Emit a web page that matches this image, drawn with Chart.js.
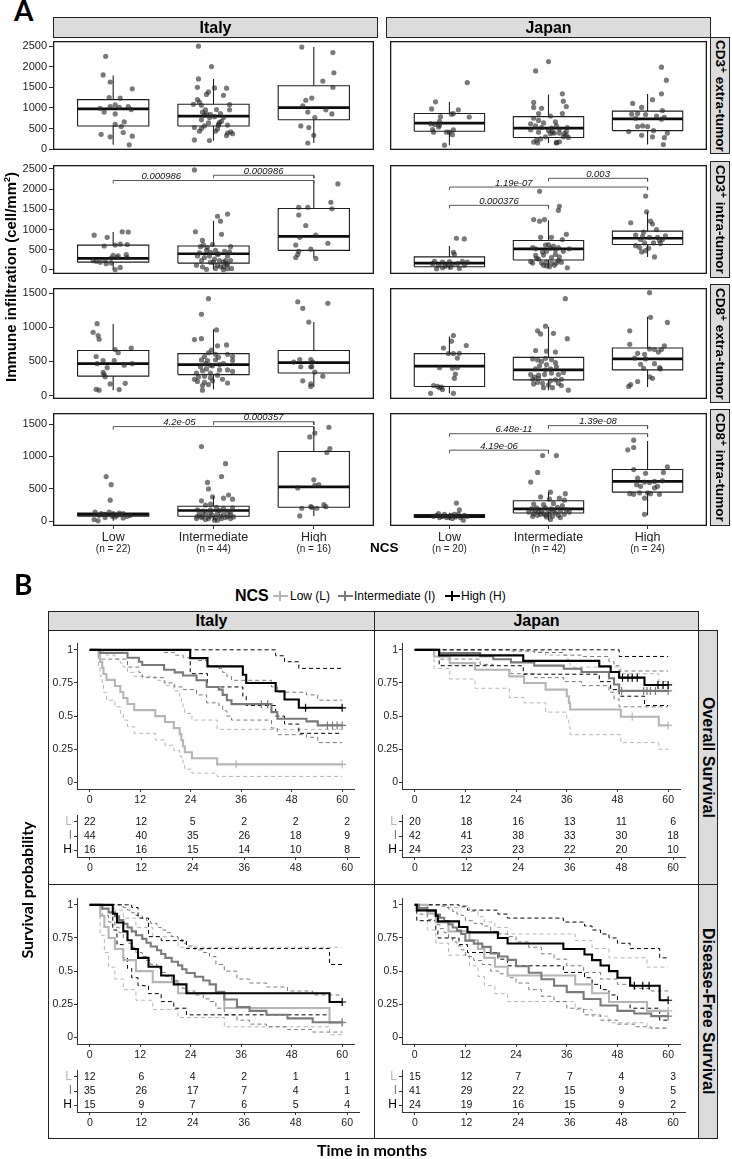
<!DOCTYPE html>
<html><head><meta charset="utf-8">
<script src="https://cdn.jsdelivr.net/npm/chart.js@4.4.1/dist/chart.umd.min.js"></script>
<style>
html,body{margin:0;padding:0;background:#fff;}
#root{position:relative;width:732px;height:1159px;overflow:hidden;font-family:"Liberation Sans",Arial,Helvetica,sans-serif;color:#000;}
#root canvas{position:absolute;}
.t{position:absolute;white-space:nowrap;}
.strip{position:absolute;box-sizing:border-box;background:#dcdcdc;border:1px solid #222;display:flex;align-items:center;justify-content:center;font-weight:bold;white-space:nowrap;}
.vs{writing-mode:vertical-rl;}
.sp{font-size:10px;position:relative;left:3px;}
.frame{position:absolute;box-sizing:border-box;border:1px solid #222;pointer-events:none;}
.sym{position:absolute;height:2px;width:15px;}
.sym:after{content:"";position:absolute;left:6px;top:-4px;width:2px;height:10px;background:inherit;}
</style></head><body><div id="root"></div>
<script>
// ======================= PANEL A DATA =======================
const groupNames = ['Low','Intermediate','High'];
const nItaly = ['(n = 22)','(n = 44)','(n = 16)'];
const nJapan = ['(n = 20)','(n = 42)','(n = 24)'];
const cohortNames = ['Italy','Japan'];
const rowTitles = ['CD3<span class="sp">+</span>&nbsp;extra-tumor','CD3<span class="sp">+</span>&nbsp;intra-tumor','CD8<span class="sp">+</span>&nbsp;extra-tumor','CD8<span class="sp">+</span>&nbsp;intra-tumor'];
const ticksCD3 = [0,500,1000,1500,2000,2500];
const ticksCD8 = [0,500,1000,1500];

// box statistics per group (Low, Intermediate, High): [q1, median, q3, lower whisker, upper whisker]
const itCD3eBox = [[563,976,1202,105,1787],[563,803,1089,203,1705],[713,1006,1540,150,2478]];
const jpCD3eBox = [[436,631,864,98,1142],[285,511,789,150,1329],[451,736,924,113,1337]];
const itCD3iBox = [[192,285,615,5,938],[169,400,592,15,1215],[484,830,1523,308,2138]];
const jpCD3iBox = [[77,169,323,31,592],[246,523,730,54,1230],[630,784,961,323,1438]];
const itCD8eBox = [[284,468,660,78,1050],[307,454,615,87,972],[330,482,660,124,1078]];
const jpCD8eBox = [[133,431,615,32,867],[229,376,560,78,1005],[376,537,697,124,1156]];
const itCD8iBox = [[78,105,124,5,140],[75,164,229,15,389],[214,528,1076,75,1450]];
const jpCD8iBox = [[58,75,100,15,130],[125,189,314,15,453],[448,613,797,90,1236]];

// jittered points: [group, jitter, value]
const itCD3ePts = [[1,-.075,2253],[1,-.10,1802],[1,-.03,1630],[1,-.04,1254],[1,.07,1239],[1,.19,1464],[1,-.13,991],[1,-.09,901],[1,-.03,1036],[1,.02,1074],[1,.06,1014],[1,.15,1036],[1,.18,961],[1,.02,856],[1,.02,601],[1,.08,548],[1,.11,661],[1,-.12,360],[1,-.03,300],[1,.10,405],[1,.19,315],[1,.16,105],
[2,-.15,2500],[2,-.02,2005],[2,-.15,1705],[2,-.16,1502],[2,-.07,1329],[2,-.05,1389],[2,.01,1487],[2,.13,1480],[2,.10,1307],[2,-.14,1141],[2,-.20,1089],[2,-.12,1066],[2,-.08,954],[2,.03,961],[2,.16,1081],[2,.16,954],[2,-.09,826],[2,-.07,856],[2,-.04,766],[2,.01,789],[2,.10,766],[2,-.12,713],[2,.06,653],[2,-.05,638],[2,.05,578],[2,.14,586],[2,-.19,526],[2,-.12,503],[2,-.14,435],[2,.02,435],[2,.05,601],[2,.14,390],[2,.19,375],[2,.13,330],[2,-.19,225],[2,-.04,210],[2,.08,676],[2,-.11,901],[2,-.03,841],[2,.17,420],[2,.04,488],[2,-.16,1201],[2,.07,864],[2,-.09,563],
[3,-.12,2478],[3,.19,2343],[3,.20,1855],[3,.09,1652],[3,.19,1502],[3,-.02,1239],[3,-.08,1187],[3,-.11,1051],[3,-.06,901],[3,.12,954],[3,.18,856],[3,.01,766],[3,-.13,563],[3,-.05,526],[3,0,338],[3,-.06,150]];
const jpCD3ePts = [[1,.18,1615],[1,-.14,1149],[1,-.18,976],[1,.09,954],[1,.04,864],[1,.02,849],[1,-.09,789],[1,.20,781],[1,-.10,676],[1,-.19,616],[1,-.15,601],[1,-.11,541],[1,-.17,473],[1,.04,466],[1,-.03,413],[1,.03,353],[1,-.16,413],[1,-.05,98],[1,-.10,578],[1,0,413],
[2,0,2125],[2,-.13,1900],[2,.14,1344],[2,-.15,1134],[2,.15,1164],[2,-.15,1014],[2,-.07,991],[2,.18,1036],[2,-.10,864],[2,.02,803],[2,.14,864],[2,-.15,751],[2,-.05,638],[2,.07,661],[2,-.18,616],[2,-.13,563],[2,-.07,526],[2,.03,511],[2,.08,563],[2,.19,526],[2,.11,488],[2,-.10,413],[2,.02,375],[2,.06,390],[2,.11,390],[2,.18,338],[2,.20,285],[2,-.12,225],[2,-.08,248],[2,-.15,173],[2,-.11,150],[2,.08,165],[2,.11,180],[2,.04,413],[2,-.03,300],[2,0,450],[2,-.18,473],[2,.16,375],[2,-.10,698],[2,.18,435],[2,.08,150],[2,.15,300],
[3,.14,1990],[3,.19,1675],[3,.14,1344],[3,.05,1202],[3,-.15,1111],[3,-.06,1014],[3,.15,939],[3,-.16,849],[3,-.10,864],[3,-.02,841],[3,.09,803],[3,.17,774],[3,-.12,751],[3,.14,728],[3,-.05,563],[3,0,548],[3,-.10,548],[3,-.19,428],[3,.20,390],[3,.06,450],[3,-.06,338],[3,.05,300],[3,.17,278],[3,.16,113]];
const itCD3iPts = [[1,-.19,861],[1,-.06,807],[1,.09,946],[1,.15,938],[1,-.09,592],[1,.02,615],[1,.07,638],[1,.14,630],[1,.05,346],[1,0,361],[1,.13,377],[1,-.17,215],[1,-.13,192],[1,-.08,231],[1,-.07,154],[1,-.02,292],[1,.04,308],[1,.14,308],[1,.02,5],[1,.07,62],[1,-.02,169],[1,-.2,231],
[2,-.19,2476],[2,.04,1330],[2,.14,1384],[2,.07,1207],[2,-.18,946],[2,.08,884],[2,-.11,730],[2,-.10,615],[2,-.01,630],[2,.17,577],[2,-.13,577],[2,-.06,554],[2,-.07,484],[2,-.03,438],[2,.02,484],[2,.05,400],[2,.11,461],[2,.16,446],[2,-.16,346],[2,-.04,346],[2,.04,384],[2,.14,346],[2,-.12,231],[2,.01,269],[2,.10,192],[2,.13,154],[2,-.17,115],[2,-.11,77],[2,-.07,15],[2,-.03,192],[2,.04,115],[2,.07,77],[2,.10,77],[2,.14,31],[2,.18,38],[2,.12,231],[2,-.09,308],[2,0,192],[2,.17,231],[2,.06,231],[2,-.14,423],[2,.14,131],[2,.10,5],[2,.02,38],
[3,.24,2130],[3,.17,1676],[3,-.15,1553],[3,-.06,1553],[3,.18,1515],[3,-.15,1361],[3,-.08,1100],[3,.02,861],[3,-.14,807],[3,.14,661],[3,-.18,615],[3,-.03,515],[3,-.15,461],[3,-.16,384],[3,-.18,308],[3,.02,285]];
const jpCD3iPts = [[1,.07,784],[1,.15,769],[1,.04,438],[1,.05,384],[1,-.15,215],[1,-.07,192],[1,.13,215],[1,.18,192],[1,-.17,154],[1,-.02,138],[1,.03,138],[1,.08,154],[1,-.13,31],[1,-.07,54],[1,.01,62],[1,.10,38],[1,-.04,92],[1,-.11,115],[1,.15,115],[1,0,208],
[2,-.09,1946],[2,.11,1576],[2,.10,1476],[2,-.15,1246],[2,-.09,1207],[2,-.04,1246],[2,-.08,807],[2,.03,807],[2,.14,754],[2,.18,884],[2,-.16,554],[2,-.13,523],[2,-.03,615],[2,0,630],[2,.05,592],[2,.10,554],[2,.21,523],[2,-.06,446],[2,-.02,461],[2,.07,500],[2,-.13,361],[2,-.05,369],[2,.03,308],[2,.11,323],[2,-.18,208],[2,-.16,169],[2,-.10,269],[2,-.02,192],[2,.03,169],[2,.08,169],[2,.13,192],[2,.01,77],[2,-.02,100],[2,.19,54],[2,.06,115],[2,-.07,169],[2,-.12,285],[2,.15,461],[2,.07,384],[2,.10,231],[2,.02,538],[2,-.05,115],
[3,-.02,1830],[3,-.01,1438],[3,-.17,1169],[3,.03,1207],[3,.05,1138],[3,.09,1000],[3,-.04,938],[3,-.12,861],[3,-.05,830],[3,.02,807],[3,.10,807],[3,.18,846],[3,-.07,754],[3,.15,754],[3,-.12,600],[3,-.08,554],[3,-.03,669],[3,.06,669],[3,.13,653],[3,-.02,477],[3,-.06,446],[3,.07,323],[3,.01,538],[3,.12,730]];
const itCD8ePts = [[1,-.16,1055],[1,-.20,927],[1,-.15,881],[1,-.14,826],[1,.02,674],[1,.05,628],[1,.18,697],[1,-.17,573],[1,-.10,514],[1,.01,514],[1,-.16,468],[1,.11,445],[1,.19,468],[1,-.06,408],[1,-.10,339],[1,-.08,275],[1,-.03,170],[1,.12,179],[1,-.17,92],[1,-.14,78],[1,.06,87],[1,-.09,307],
[2,-.05,1422],[2,-.12,1193],[2,.03,963],[2,-.19,821],[2,-.12,835],[2,-.02,665],[2,.04,729],[2,.13,743],[2,-.05,628],[2,.14,605],[2,.19,573],[2,-.12,523],[2,-.06,514],[2,.02,523],[2,.05,560],[2,-.13,422],[2,-.08,468],[2,-.01,436],[2,.06,454],[2,.19,514],[2,-.17,330],[2,-.11,362],[2,-.07,390],[2,.14,376],[2,.19,353],[2,-.19,239],[2,-.15,271],[2,-.09,284],[2,-.03,261],[2,.04,298],[2,-.16,206],[2,-.09,193],[2,-.01,216],[2,.14,184],[2,-.11,78],[2,-.05,161],[2,-.11,147],[2,-.03,330],[2,.06,376],[2,.02,605],[2,.10,468],[2,-.03,445],[2,-.09,573],[2,.09,239],
[3,-.16,1376],[3,-.11,1280],[3,.14,1353],[3,-.05,1078],[3,-.20,491],[3,-.14,527],[3,-.03,527],[3,-.01,491],[3,-.13,422],[3,-.03,422],[3,.01,344],[3,.09,284],[3,-.11,216],[3,-.03,170],[3,-.03,133],[3,-.02,422]];
const jpCD8ePts = [[1,.04,881],[1,.02,798],[1,.17,734],[1,-.06,697],[1,-.01,615],[1,.04,615],[1,.10,619],[1,.08,550],[1,-.10,408],[1,.03,399],[1,.08,408],[1,.06,316],[1,.05,252],[1,-.16,147],[1,-.12,133],[1,-.10,115],[1,-.07,87],[1,-.19,32],[1,.04,32],[1,-.08,124],
[2,.17,1422],[2,-.03,1018],[2,-.11,950],[2,-.08,904],[2,.05,913],[2,.19,835],[2,-.13,661],[2,-.02,651],[2,.07,638],[2,-.16,537],[2,-.11,523],[2,-.07,500],[2,-.03,546],[2,.03,527],[2,.07,482],[2,-.09,436],[2,-.02,454],[2,.08,422],[2,-.13,390],[2,-.03,376],[2,.02,390],[2,.15,339],[2,-.18,307],[2,-.14,271],[2,-.10,298],[2,-.04,307],[2,.03,330],[2,.10,307],[2,-.16,239],[2,-.10,252],[2,-.06,179],[2,.02,216],[2,.07,229],[2,.13,239],[2,-.15,170],[2,-.05,115],[2,.04,115],[2,.13,147],[2,.20,78],[2,0,156],[2,-.11,193],[2,.10,179],
[3,.02,1509],[3,.03,1147],[3,.20,1073],[3,-.18,950],[3,-.18,752],[3,.02,683],[3,.07,674],[3,.14,674],[3,.17,729],[3,-.10,619],[3,.11,638],[3,-.02,537],[3,-.13,550],[3,-.07,459],[3,.12,408],[3,-.04,399],[3,.02,275],[3,.05,252],[3,-.10,206],[3,-.19,133],[3,-.17,161],[3,.13,390],[3,.07,468],[3,-.03,605]];
const itCD8iPts = [[1,-.07,688],[1,-.02,563],[1,-.03,324],[1,-.18,140],[1,-.12,115],[1,-.04,140],[1,0,115],[1,.06,125],[1,.10,115],[1,.17,90],[1,-.19,25],[1,-.15,5],[1,-.08,55],[1,.02,65],[1,.10,50],[1,-.09,105],[1,.04,90],[1,-.14,90],[1,-.08,105],[1,-.01,75],[1,.07,105],[1,.14,75],
[2,-.12,1151],[2,.12,887],[2,.08,688],[2,-.06,598],[2,-.05,498],[2,-.01,374],[2,.10,354],[2,.15,404],[2,.19,339],[2,-.12,314],[2,-.08,249],[2,-.03,264],[2,.03,214],[2,.10,199],[2,.19,204],[2,-.16,174],[2,-.10,154],[2,-.03,140],[2,.06,164],[2,.14,154],[2,-.14,105],[2,-.08,115],[2,-.01,90],[2,.04,115],[2,.10,105],[2,.17,90],[2,-.17,40],[2,-.12,55],[2,-.08,25],[2,.01,15],[2,.08,40],[2,.12,55],[2,.17,40],[2,.04,15],[2,-.04,75],[2,-.11,75],[2,.14,75],[2,-.03,174],[2,.07,75],[2,.17,140],[2,.02,55],[2,-.05,40],[2,-.16,75],[2,.20,65],
[3,.15,1450],[3,.01,1360],[3,-.04,1300],[3,.16,1121],[3,.13,1061],[3,0,638],[3,-.16,513],[3,.01,553],[3,.05,563],[3,-.12,199],[3,-.03,224],[3,.03,199],[3,.12,224],[3,-.14,80],[3,.10,254],[3,-.02,214]];
const jpCD8iPts = [[1,.07,279],[1,.10,174],[1,-.11,115],[1,-.07,75],[1,.02,90],[1,.06,65],[1,.11,55],[1,.14,15],[1,.18,75],[1,-.16,75],[1,-.03,55],[1,.09,105],[1,-.10,55],[1,.03,40],[1,-.13,90],[1,-.05,105],[1,0,65],[1,.15,90],[1,.05,105],[1,-.08,75],
[2,-.06,1012],[2,.08,1012],[2,-.11,752],[2,-.18,603],[2,.02,448],[2,.17,424],[2,-.08,374],[2,.01,339],[2,.11,354],[2,.16,324],[2,-.15,264],[2,-.05,254],[2,.05,274],[2,.14,239],[2,-.17,189],[2,-.12,204],[2,-.07,164],[2,-.03,204],[2,.03,189],[2,.09,214],[2,.18,174],[2,-.20,140],[2,-.15,115],[2,-.10,140],[2,-.05,115],[2,0,154],[2,.07,125],[2,.12,154],[2,.21,140],[2,-.16,75],[2,-.11,90],[2,-.02,65],[2,.04,75],[2,.12,55],[2,.02,25],[2,-.03,90],[2,.10,90],[2,-.08,105],[2,.16,105],[2,.05,164],[2,-.13,164],[2,.01,105],
[3,-.14,1251],[3,-.20,1101],[3,-.14,1136],[3,-.14,797],[3,.20,837],[3,-.02,738],[3,.16,752],[3,-.10,663],[3,.07,613],[3,.15,623],[3,.02,598],[3,-.07,538],[3,-.03,603],[3,-.18,424],[3,-.14,414],[3,.03,424],[3,.12,414],[3,-.03,354],[3,-.03,105],[3,0,438],[3,.07,513],[3,-.08,438],[3,.10,538],[3,-.11,563]];

// significance brackets: [group1, group2, y, p-value label, label x]
const itCD3iSig = [[1,3,2215,'0.000986',1.48],[2,3,2345,'0.000986',2.5]];
const jpCD3iSig = [[2,3,2269,'0.003',2.5],[1,3,2053,'1.19e-07',1.65],[1,2,1600,'0.000376',1.5]];
const itCD8iSig = [[1,3,1460,'4.2e-05',1.66],[2,3,1535,'0.000357',2.5]];
const jpCD8iSig = [[2,3,1475,'1.39e-08',2.5],[1,3,1350,'6.48e-11',1.65],[1,2,1096,'4.19e-06',1.5]];

// ======================= PANEL B DATA =======================
const legendTitle = 'NCS';
const legendLabels = ['Low (L)','Intermediate (I)','High (H)'];
const stripB = ['Overall Survival','Disease-Free Survival'];
const kmXTicks = [0,12,24,36,48,60];
const kmYTicks = [0,0.25,0.5,0.75,1];
const riskTimes = [0,12,24,36,48,60];
const riskRowLabels = ['H','I','L'];

// Italy – overall survival: times, survival, upper CI, lower CI, censoring times
const itOS_H_t = [0,23.9,28,36.4,37.2,44.2,46.3,49.7,60];
const itOS_H_s = [1,.9375,.875,.8125,.75,.6875,.625,.5625,.5625];
const itOS_H_up = [1,1,1,1,1,.955,.91,.86,.86];
const itOS_H_lo = [1,.82,.72,.65,.58,.5,.44,.37,.37];
const itOS_H_c = [51.3,60];
const itOS_I_t = [0,2.5,9.0,11.7,12.5,17.7,20.2,22.2,25.4,27.8,30.7,31.6,32.6,33.7,43.2,44.6,51.5,54.2,60];
const itOS_I_s = [1,.977,.94,.91,.886,.85,.83,.806,.77,.72,.70,.66,.62,.59,.53,.48,.46,.43,.43];
const itOS_I_up = [1,1,1,1,1,.98,.96,.94,.92,.88,.86,.83,.80,.77,.72,.68,.66,.62,.62];
const itOS_I_lo = [1,.93,.87,.83,.79,.75,.72,.70,.66,.60,.58,.54,.50,.47,.41,.36,.34,.30,.30];
const itOS_I_c = [40.8,42.3,56.5,57.7,58.8,60];
const itOS_L_t = [0,2.1,2.5,3,3.3,4,6,7.3,8,9,10.6,15.6,17.9,20,21.4,21.8,22.2,22.6,24.3,30.3,60];
const itOS_L_s = [1,.955,.909,.864,.818,.773,.727,.682,.636,.591,.545,.5,.455,.409,.364,.318,.273,.227,.182,.136,.136];
const itOS_L_up = [1,1,1,1,.98,.96,.93,.90,.87,.83,.80,.77,.73,.69,.65,.61,.57,.52,.47,.40,.40];
const itOS_L_lo = [1,.87,.80,.74,.68,.62,.57,.52,.47,.42,.37,.32,.28,.24,.20,.17,.13,.10,.07,.045,.045];
const itOS_L_c = [34.8,60];
// Japan – overall survival
const jpOS_H_t = [0,5.8,25.7,43.7,46.4,48.4,54.4,60];
const jpOS_H_s = [1,.958,.917,.875,.833,.79,.735,.735];
const jpOS_H_up = [1,1,1,1,1,.95,.95,.95];
const jpOS_H_lo = [1,.88,.816,.76,.70,.65,.58,.58];
const jpOS_H_c = [49.2,50.5,51.5,52.7,57.6,58.8,60];
const jpOS_I_t = [0,5.8,15.5,18.6,22.8,28.3,35.3,39.5,46,47.2,48.4,60];
const jpOS_I_s = [1,.976,.952,.929,.905,.881,.857,.833,.786,.738,.69,.69];
const jpOS_I_up = [1,1,1,1,.99,.98,.96,.95,.91,.88,.84,.84];
const jpOS_I_lo = [1,.93,.89,.85,.82,.79,.76,.73,.68,.63,.57,.57];
const jpOS_I_c = [49,54.2,55,55.8,57,60];
const jpOS_L_t = [0,4.6,8.3,14.3,22.4,25.9,31,36,36.5,36.8,48.8,57.8,60];
const jpOS_L_s = [1,.95,.9,.85,.8,.75,.7,.65,.6,.55,.495,.43,.43];
const jpOS_L_up = [1,1,1,1,1,.99,.96,.93,.9,.87,.82,.76,.76];
const jpOS_L_lo = [1,.86,.78,.71,.64,.60,.53,.48,.42,.36,.30,.25,.25];
const jpOS_L_c = [51.5,60];
// Italy – disease-free survival
const itDFS_H_t = [0,5.5,6.5,8,9,10,11.5,14,17,20,23,57,60];
const itDFS_H_s = [1,.933,.867,.8,.733,.667,.6,.533,.467,.4,.333,.267,.267];
const itDFS_H_up = [1,1,1,1,1,.98,.9,.76,.73,.73,.67,.55,.55];
const itDFS_H_lo = [1,.81,.7,.6,.52,.45,.39,.33,.27,.22,.17,.11,.11];
const itDFS_H_c = [60];
const itDFS_I_t = [0,3,4.5,6,7,8,9,10,11,12.5,13.5,14.5,16,17,18,19.5,21,22,23,25,27,28.5,30,32,35,38,42,47,53,60];
const itDFS_I_s = [1,.971,.943,.914,.886,.857,.829,.8,.771,.743,.714,.686,.657,.629,.6,.571,.543,.514,.486,.457,.429,.4,.343,.286,.229,.2,.171,.143,.114,.114];
const itDFS_I_up = [1,1,1,1,1,.98,.96,.94,.92,.9,.88,.86,.83,.81,.79,.76,.74,.71,.69,.66,.64,.61,.55,.5,.44,.41,.38,.35,.32,.32];
const itDFS_I_lo = [1,.92,.87,.83,.79,.75,.71,.68,.64,.61,.58,.55,.52,.49,.46,.43,.4,.37,.35,.32,.29,.27,.22,.17,.13,.1,.08,.06,.04,.04];
const itDFS_I_c = [60];
const itDFS_L_t = [0,2.5,3.5,4.5,6,8,11,15,21,32,57,60];
const itDFS_L_s = [1,.917,.833,.75,.667,.583,.5,.417,.333,.222,.111,.111];
const itDFS_L_up = [1,1,1,1,.96,.9,.83,.76,.68,.68,.68,.68];
const itDFS_L_lo = [1,.77,.64,.53,.44,.36,.28,.21,.15,.08,.02,.02];
const itDFS_L_c = [60];
// Japan – disease-free survival
const jpDFS_H_t = [0,.5,5,5.5,10.5,12.5,19.7,22,35.2,40.2,42,44,46,48,51,58,60];
const jpDFS_H_s = [1,.958,.917,.875,.833,.792,.75,.708,.667,.625,.583,.542,.5,.45,.39,.28,.28];
const jpDFS_H_up = [1,1,1,1,.99,.96,.93,.9,.87,.84,.81,.78,.75,.71,.67,.6,.6];
const jpDFS_H_lo = [1,.88,.81,.75,.70,.64,.59,.54,.49,.45,.40,.36,.32,.27,.22,.13,.13];
const jpDFS_H_c = [52,54,55.5,60];
const jpDFS_I_t = [0,1,3,5,6,7,8,9,10,11,12,14,16,18,20,22,24,27,30,33,36,40,44,48,52,56,60];
const jpDFS_I_s = [1,.976,.951,.927,.902,.878,.854,.829,.805,.78,.73,.707,.683,.634,.61,.585,.537,.488,.439,.39,.341,.29,.24,.2,.18,.16,.16];
const jpDFS_I_up = [1,1,1,1,.99,.98,.97,.95,.93,.92,.88,.86,.84,.8,.78,.76,.72,.68,.63,.59,.54,.49,.44,.4,.37,.35,.35];
const jpDFS_I_lo = [1,.93,.89,.85,.82,.79,.75,.72,.69,.66,.61,.58,.55,.5,.48,.45,.41,.36,.31,.27,.22,.17,.13,.1,.08,.07,.07];
const jpDFS_I_c = [60];
const jpDFS_L_t = [0,3,5,8,13,15,16.5,19,22,38,42,46,55,60];
const jpDFS_L_s = [1,.933,.867,.8,.733,.667,.6,.533,.467,.4,.333,.267,.2,.2];
const jpDFS_L_up = [1,1,1,.98,.95,.91,.87,.83,.78,.73,.67,.6,.53,.53];
const jpDFS_L_lo = [1,.81,.71,.62,.54,.46,.39,.33,.27,.21,.16,.11,.07,.07];
const jpDFS_L_c = [60];

// numbers at risk [at 0,12,24,36,48,60]
const itOS_risk_L = [22,12,5,2,2,2], itOS_risk_I = [44,40,35,26,18,9], itOS_risk_H = [16,16,15,14,10,8];
const jpOS_risk_L = [20,18,16,13,11,6], jpOS_risk_I = [42,41,38,33,30,18], jpOS_risk_H = [24,23,23,22,20,10];
const itDFS_risk_L = [12,6,4,2,1,1], itDFS_risk_I = [35,26,17,7,4,1], itDFS_risk_H = [15,9,7,6,5,4];
const jpDFS_risk_L = [15,12,7,7,4,3], jpDFS_risk_I = [41,29,22,15,9,5], jpDFS_risk_H = [24,19,16,15,9,2];

// ======================= RENDERING =======================
const root = document.getElementById('root');
Chart.defaults.font.family = '"Liberation Sans", Arial, sans-serif';
Chart.defaults.color = '#333';
const COL = {L:'#b5b5b5', I:'#7a7a7a', H:'#000000'};
const TICK = '#333';

function addCanvas(left, top, w, h){
  const cv = document.createElement('canvas');
  cv.width = w; cv.height = h;
  Object.assign(cv.style, {left:left+'px', top:top+'px', width:w+'px', height:h+'px'});
  root.appendChild(cv); return cv;
}
function fixedTicks(vals){ return s => { s.ticks = vals.map(v => ({value:v})); }; }
function textPlugin(items){
  return {id:'txt', afterDatasetsDraw(chart){
    const c = chart.ctx, xs = chart.scales.x, ys = chart.scales.y;
    c.save();
    items.forEach(it => {
      c.font = it.font; c.fillStyle = it.color || '#000';
      c.textAlign = it.align || 'center'; c.textBaseline = it.base || 'alphabetic';
      c.fillText(it.text, xs.getPixelForValue(it.x), ys.getPixelForValue(it.y) + (it.dy || 0));
    });
    c.restore();
  }};
}
function framePlugin(){
  return {id:'frame', afterDraw(chart){
    const a = chart.chartArea, c = chart.ctx;
    c.save(); c.strokeStyle = '#1a1a1a'; c.lineWidth = 1.3;
    c.strokeRect(a.left + 0.65, a.top + 0.65, a.right - a.left - 1.3, a.bottom - a.top - 1.3);
    c.restore();
  }};
}
const baseOpts = {responsive:false, animation:false, devicePixelRatio:1, events:[],
  plugins:{legend:{display:false}, tooltip:{enabled:false}}, layout:{padding:0}};

// ---------- Panel A box plots ----------
const A_COLS = [[53,378],[386,711]];
const A_ROWS = [[37,154],[161,278],[284,403],[409,526]];
const A_YLIM = [[-20,2625],[-101,2599],[-51,1578],[-75,1670]];
const A_YTICKS = [ticksCD3, ticksCD3, ticksCD8, ticksCD8];
const BOX_HALF = 0.355;

function boxPanel(col, row, pts, box, sig, nLab){
  const [x0,x1] = A_COLS[col], [y0,y1] = A_ROWS[row];
  const showY = col === 0, showX = row === 3, yW = 53;
  const left = showY ? x0 - yW : x0;
  const w = x1 - left, h = (y1 - y0) + (showX ? 31 : 0);
  const [ymin, ymax] = A_YLIM[row];
  const tip = (ymax - ymin) * 0.028;
  const outline = [], whisk = [], med = [], br = [], items = [];
  const gap = {x:null, y:null};
  box.forEach((b, i) => {
    const g = i + 1, [q1, m, q3, lo, hi] = b;
    outline.push({x:g-BOX_HALF,y:q1},{x:g-BOX_HALF,y:q3},{x:g+BOX_HALF,y:q3},{x:g+BOX_HALF,y:q1},{x:g-BOX_HALF,y:q1},gap);
    whisk.push({x:g,y:q3},{x:g,y:hi},gap,{x:g,y:q1},{x:g,y:lo},gap);
    med.push({x:g-BOX_HALF,y:m},{x:g+BOX_HALF,y:m},gap);
  });
  (sig || []).forEach(s => {
    const [g1, g2, yv, lab, lx] = s;
    br.push({x:g1,y:yv-tip},{x:g1,y:yv},{x:g2,y:yv},{x:g2,y:yv-tip},gap);
    items.push({x:lx, y:yv, dy:-1.5, text:lab, font:'italic 9.5px "Liberation Sans", Arial, sans-serif', color:'#111'});
  });
  const datasets = [
    {type:'scatter', data:pts.map(p => ({x:p[0]+p[1], y:p[2]})), pointRadius:2.6, backgroundColor:'rgba(40,40,40,0.62)', borderWidth:0, order:0},
    {type:'line', data:br, borderColor:'#444', borderWidth:0.9, pointRadius:0, spanGaps:false, order:1},
    {type:'line', data:med, borderColor:'#0d0d0d', borderWidth:2.7, pointRadius:0, spanGaps:false, borderCapStyle:'butt', order:2},
    {type:'line', data:outline, borderColor:'#1e1e1e', borderWidth:1.1, pointRadius:0, spanGaps:false, borderJoinStyle:'miter', order:3},
    {type:'line', data:whisk, borderColor:'#1e1e1e', borderWidth:1.1, pointRadius:0, spanGaps:false, order:3}
  ];
  const scales = {
    x:{type:'linear', min:0.4, max:3.6, display:showX, position:'bottom',
      afterBuildTicks:fixedTicks([1,2,3]),
      afterFit:s => { if (showX) { s.height = 16; } s.paddingLeft = 0; s.paddingRight = 0; },
      ticks:{autoSkip:false, maxRotation:0, font:{size:12.5}, color:'#222', padding:1, callback:v => groupNames[v-1]},
      grid:{display:true, drawOnChartArea:false, drawTicks:true, tickLength:3, color:TICK}, border:{display:false}},
    y:{type:'linear', min:ymin, max:ymax, display:showY, position:'left',
      afterBuildTicks:fixedTicks(A_YTICKS[row]),
      afterFit:s => { if (showY) { s.width = yW; } s.paddingTop = 0; s.paddingBottom = 0; },
      ticks:{autoSkip:false, font:{size:11}, color:'#222', padding:2, callback:v => String(v)},
      grid:{display:true, drawOnChartArea:false, drawTicks:true, tickLength:4, color:TICK}, border:{display:false}}
  };
  if (showX) {
    scales.x2 = {type:'linear', min:0.4, max:3.6, display:true, position:'bottom',
      afterBuildTicks:fixedTicks([1,2,3]),
      afterFit:s => {s.height = 15; s.paddingLeft = 0; s.paddingRight = 0;},
      ticks:{autoSkip:false, maxRotation:0, font:{size:10}, color:'#222', padding:1, callback:v => nLab[v-1]},
      grid:{display:false, drawTicks:false}, border:{display:false}};
  }
  new Chart(addCanvas(left, y0, w, h), {type:'scatter', data:{datasets},
    options:Object.assign({}, baseOpts, {scales}), plugins:[framePlugin(), textPlugin(items)]});
}
boxPanel(0,0,itCD3ePts,itCD3eBox,null,nItaly);
boxPanel(1,0,jpCD3ePts,jpCD3eBox,null,nJapan);
boxPanel(0,1,itCD3iPts,itCD3iBox,itCD3iSig,nItaly);
boxPanel(1,1,jpCD3iPts,jpCD3iBox,jpCD3iSig,nJapan);
boxPanel(0,2,itCD8ePts,itCD8eBox,null,nItaly);
boxPanel(1,2,jpCD8ePts,jpCD8eBox,null,nJapan);
boxPanel(0,3,itCD8iPts,itCD8iBox,itCD8iSig,nItaly);
boxPanel(1,3,jpCD8iPts,jpCD8iBox,jpCD8iSig,nJapan);

// ---------- Panel B Kaplan–Meier ----------
function stepData(t, v){ return t.map((x, i) => ({x, y:v[i]})); }
function kmPanel(left, top, groups){
  const ds = [];
  groups.forEach((g, gi) => {
    ds.push({type:'line', data:stepData(g.t, g.s), stepped:'before', borderColor:g.color, borderWidth:2.1, pointRadius:0, fill:false, order:10+gi});
    ds.push({type:'line', data:stepData(g.t, g.up), stepped:'before', borderColor:g.color, borderWidth:1, borderDash:[4,3], pointRadius:0, fill:false, order:20+gi});
    ds.push({type:'line', data:stepData(g.t, g.lo), stepped:'before', borderColor:g.color, borderWidth:1, borderDash:[4,3], pointRadius:0, fill:false, order:20+gi});
    const cens = g.c.map(c => { let k = 0; g.t.forEach((x, i) => { if (x <= c) k = i; }); return {x:c, y:g.s[k]}; });
    ds.push({type:'scatter', data:cens, pointStyle:'cross', pointRadius:4, borderColor:g.color, borderWidth:1.2, order:gi});
  });
  const scales = {
    x:{type:'linear', min:-3, max:63, afterBuildTicks:fixedTicks(kmXTicks),
      afterFit:s => {s.height = 18; s.paddingLeft = 0; s.paddingRight = 0;},
      ticks:{autoSkip:false, maxRotation:0, font:{size:10.5}, color:'#222', padding:2, callback:v => String(v)},
      grid:{drawOnChartArea:false, drawTicks:true, tickLength:3, color:TICK}, border:{display:true, color:'#333', width:1}},
    y:{type:'linear', min:-0.05, max:1.05, afterBuildTicks:fixedTicks(kmYTicks),
      afterFit:s => {s.width = 47; s.paddingTop = 0; s.paddingBottom = 0;},
      ticks:{autoSkip:false, font:{size:10.5}, color:'#222', padding:1, callback:v => String(v)},
      grid:{drawOnChartArea:false, drawTicks:true, tickLength:3, color:TICK}, border:{display:true, color:'#333', width:1}}
  };
  new Chart(addCanvas(left, top, left < 100 ? 330 : 331, 169), {type:'scatter', data:{datasets:ds},
    options:Object.assign({}, baseOpts, {scales})});
}
function riskPanel(left, top, rL, rI, rH){
  const items = [];
  [[rH,1],[rI,2],[rL,3]].forEach(([arr, yv]) => arr.forEach((n, i) =>
    items.push({x:riskTimes[i], y:yv, text:String(n), base:'middle', font:'10.5px "Liberation Sans", Arial, sans-serif', color:'#111'})));
  const labCols = [COL.H, COL.I, COL.L];
  const scales = {
    x:{type:'linear', min:-3, max:63, afterBuildTicks:fixedTicks(kmXTicks),
      afterFit:s => {s.height = 18; s.paddingLeft = 0; s.paddingRight = 0;},
      ticks:{autoSkip:false, maxRotation:0, font:{size:10.5}, color:'#222', padding:2, callback:v => String(v)},
      grid:{drawOnChartArea:false, drawTicks:true, tickLength:3, color:TICK}, border:{display:true, color:'#333', width:1}},
    y:{type:'linear', min:0.5, max:3.5, afterBuildTicks:fixedTicks([1,2,3]),
      afterFit:s => {s.width = 47; s.paddingTop = 0; s.paddingBottom = 0;},
      ticks:{autoSkip:false, font:{size:12}, padding:2, color:c => labCols[c.index], callback:v => riskRowLabels[v-1]},
      grid:{drawOnChartArea:false, drawTicks:true, tickLength:3, color:TICK}, border:{display:true, color:'#333', width:1}}
  };
  new Chart(addCanvas(left, top, left < 100 ? 330 : 331, 60), {type:'scatter', data:{datasets:[]},
    options:Object.assign({}, baseOpts, {scales}), plugins:[textPlugin(items)]});
}
function grp(t, s, up, lo, c, color){ return {t, s, up, lo, c, color}; }
kmPanel(30, 638, [grp(itOS_H_t,itOS_H_s,itOS_H_up,itOS_H_lo,itOS_H_c,COL.H), grp(itOS_I_t,itOS_I_s,itOS_I_up,itOS_I_lo,itOS_I_c,COL.I), grp(itOS_L_t,itOS_L_s,itOS_L_up,itOS_L_lo,itOS_L_c,COL.L)]);
kmPanel(355, 638, [grp(jpOS_H_t,jpOS_H_s,jpOS_H_up,jpOS_H_lo,jpOS_H_c,COL.H), grp(jpOS_I_t,jpOS_I_s,jpOS_I_up,jpOS_I_lo,jpOS_I_c,COL.I), grp(jpOS_L_t,jpOS_L_s,jpOS_L_up,jpOS_L_lo,jpOS_L_c,COL.L)]);
kmPanel(30, 893, [grp(itDFS_H_t,itDFS_H_s,itDFS_H_up,itDFS_H_lo,itDFS_H_c,COL.H), grp(itDFS_I_t,itDFS_I_s,itDFS_I_up,itDFS_I_lo,itDFS_I_c,COL.I), grp(itDFS_L_t,itDFS_L_s,itDFS_L_up,itDFS_L_lo,itDFS_L_c,COL.L)]);
kmPanel(355, 893, [grp(jpDFS_H_t,jpDFS_H_s,jpDFS_H_up,jpDFS_H_lo,jpDFS_H_c,COL.H), grp(jpDFS_I_t,jpDFS_I_s,jpDFS_I_up,jpDFS_I_lo,jpDFS_I_c,COL.I), grp(jpDFS_L_t,jpDFS_L_s,jpDFS_L_up,jpDFS_L_lo,jpDFS_L_c,COL.L)]);
riskPanel(30, 815, itOS_risk_L, itOS_risk_I, itOS_risk_H);
riskPanel(355, 815, jpOS_risk_L, jpOS_risk_I, jpOS_risk_H);
riskPanel(30, 1070, itDFS_risk_L, itDFS_risk_I, itDFS_risk_H);
riskPanel(355, 1070, jpDFS_risk_L, jpDFS_risk_I, jpDFS_risk_H);

// ---------- HTML text, strips and frames ----------
function el(cls, html, css){ const d = document.createElement('div'); d.className = cls; d.innerHTML = html; Object.assign(d.style, css); root.appendChild(d); return d; }
function px(v){ return v + 'px'; }
// panel A
el('t', 'A', {left:'14px', top:'-4px', font:'bold 28px Lato, "Open Sans", sans-serif', lineHeight:'28px'});
cohortNames.forEach((n, i) => el('strip', n, {left:px(A_COLS[i][0]), top:'17px', width:px(A_COLS[i][1]-A_COLS[i][0]), height:'21px', fontSize:'16px'}));
rowTitles.forEach((n, i) => el('strip vs', n, {left:'710px', top:px(A_ROWS[i][0]), width:'20px', height:px(A_ROWS[i][1]-A_ROWS[i][0]), fontSize:'13.5px'}));
el('t', 'NCS', {left:'370px', top:'540px', font:'bold 13.5px "Liberation Sans", Arial, sans-serif', lineHeight:'16px'});
el('t', 'Immune infiltration (cell/mm<sup style="font-size:9px">2</sup>)', {left:'-141px', top:'266px', width:'300px', textAlign:'center', font:'bold 15px "Liberation Sans", Arial, sans-serif', lineHeight:'18px', transform:'rotate(-90deg)'});
// panel B
el('t', 'B', {left:'14px', top:'570px', font:'bold 28px Lato, "Open Sans", sans-serif', lineHeight:'28px'});
el('t', legendTitle, {left:'235px', top:'587px', font:'bold 16px "Liberation Sans", Arial, sans-serif', lineHeight:'18px'});
const legX = [[273,290],[338,354],[445,461]];
const legC = [COL.L, COL.I, COL.H];
legendLabels.forEach((lab, i) => {
  el('sym', '', {left:px(legX[i][0]), top:'595px', background:legC[i]});
  el('t', lab, {left:px(legX[i][1]), top:'589px', font:'12px "Liberation Sans", Arial, sans-serif', lineHeight:'14px'});
});
el('strip', cohortNames[0], {left:'48px', top:'611px', width:'327px', height:'20px', fontSize:'16px'});
el('strip', cohortNames[1], {left:'374px', top:'611px', width:'325px', height:'20px', fontSize:'16px'});
el('strip vs', stripB[0], {left:'698px', top:'630px', width:'20px', height:'255px', fontSize:'16px'});
el('strip vs', stripB[1], {left:'698px', top:'884px', width:'20px', height:'255px', fontSize:'16px'});
el('frame', '', {left:'48px', top:'630px', width:'327px', height:'255px'});
el('frame', '', {left:'374px', top:'630px', width:'325px', height:'255px'});
el('frame', '', {left:'48px', top:'884px', width:'327px', height:'255px'});
el('frame', '', {left:'374px', top:'884px', width:'325px', height:'255px'});
el('t', 'Survival probability', {left:'-73px', top:'880px', width:'200px', textAlign:'center', font:'bold 16px Lato, "Open Sans", sans-serif', lineHeight:'20px', transform:'rotate(-90deg)'});
el('t', 'Time in months', {left:'272px', top:'1141px', width:'200px', textAlign:'center', font:'bold 16px Lato, "Open Sans", sans-serif', lineHeight:'18px'});
</script></body></html>
